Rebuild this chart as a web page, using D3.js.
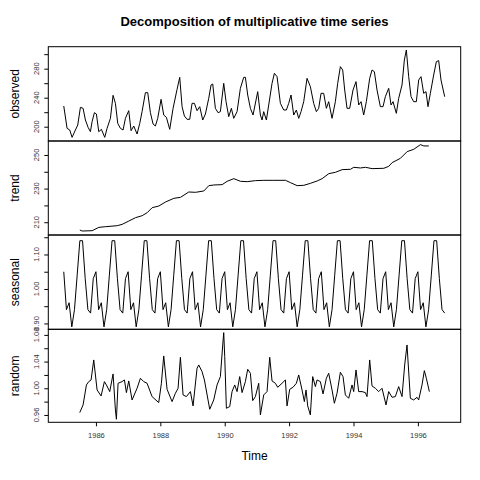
<!DOCTYPE html>
<html><head><meta charset="utf-8">
<script src="https://cdn.jsdelivr.net/npm/d3@7"></script>
<style>body{margin:0;background:#fff}svg{font-family:Arial,"Liberation Sans",sans-serif}</style>
</head><body><svg id="c" width="480" height="480"></svg>
<script>
// observed vertices: [decimal year, value]
const observedZX=[[70,198],[80,265],[88,270],[95,292],[105,270],[112,255],[120,202],[128,205],[135,240],[143,262],[150,275],[155,245],[162,218],[168,222],[175,275],[183,268],[193,292],[200,265],[210,235],[218,166],[225,190],[232,250],[240,265],[248,270],[255,235],[265,212],[272,272],[280,258],[290,282],[298,250],[305,215],[315,158],[322,158],[330,218],[338,252],[345,258],[352,235],[362,178],[370,225],[378,232],[388,268],[398,205],[410,148],[418,112],[425,200],[432,228],[440,238],[448,238],[455,190],[462,190],[470,212],[478,200],[487,240],[495,222],[505,175],[512,135],[517,132],[525,205],[533,218],[540,215],[550,130],[557,185],[565,230],[573,205],[580,235],[590,215],[600,145],[610,112],[615,112],[622,165],
[630,205],[638,225],[652,155],[660,225],[665,240],[670,215],[678,240],[685,195],[695,130],[702,100],[710,110],[720,190],[730,210],[738,210],[745,190],[752,165],[760,225],[768,210],[775,235],[782,215],[790,185],[800,115],[810,140],[820,190],[828,215],[835,205],[842,160],[850,160],[858,205],[865,185],[875,235],[885,185],[892,130],[900,80],[907,90],[913,150],[920,205],[928,205],[938,150],[947,125],[955,195],[962,185],[970,225],[978,185],[988,115],[995,90],[1002,95],[1010,150],[1020,200],[1028,200],[1035,170],[1045,145],[1052,195],[1058,185],[1068,220],[1075,175],[1085,135],[1092,60],[1098,30],[1105,110],[1112,170],[1120,185],[1128,185],[1135,120],[1142,110],[1150,160],[1157,155],[1163,200],[1170,160],[1180,105],[1188,65],[1195,62],[1202,120],[1213,170]];
const observed=observedZX.map(([zx,zy])=>[1985+(zx-70)/96.6, 200+(86.7-zy/3)/0.725]);
const trendZX=[[118,270],[125,273],[155,272],[175,262],[195,260],[230,257],[245,253],[265,243],[285,233],[305,227],[320,218],[335,203],[355,198],[375,186],[400,175],[420,172],[445,156],[465,157],[490,153],[505,137],[520,135],[545,134],[560,124],[580,116],[600,124],[620,125],[645,122],[670,121],[700,121],[735,121],[750,128],[770,137],[790,136],[810,130],[830,123],[845,116],[865,101],[885,97],[905,89],[930,88],[940,82],[960,84],[975,82],[995,86],[1030,85],[1045,79],[1055,68],[1080,55],[1100,35],[1120,28],[1140,14],[1150,18],[1165,18]];
const trend=trendZX.map(([zx,zy])=>[1985.5+(zx-118)/96.6, 250-(zy/3-15)/1.68]);
const seasonalMonths=[1.05,0.94,0.96,0.89,0.94,1.04,1.14,1.14,1.03,0.94,0.93,1.03];
const nMonths=143; // Jan 1985 - Nov 1996
const seasonal=d3.range(nMonths).map(i=>[1985+i/12, seasonalMonths[i%12]]);
const randomZX=[[238,278],[248,255],[258,195],[265,185],[272,180],[280,120],[290,210],[302,228],[312,185],[318,195],[328,215],[338,162],[345,270],[348,298],[353,190],[365,185],[372,180],[378,218],[385,183],[395,240],[410,205],[420,175],[430,185],[440,190],[455,230],[475,248],[483,190],[490,108],[500,208],[515,245],[525,220],[533,205],[540,112],[548,225],[558,230],[570,215],[578,258],[590,145],[595,135],[605,155],[612,180],[628,268],[640,240],[650,195],[660,170],[667,75],[670,38],[673,110],[678,265],[688,260],[695,215],[703,195],[710,215],[718,170],[725,218],[735,185],[742,148],[750,160],[757,242],[765,230],[775,190],[780,285],[790,225],[800,215],[808,112],[815,183],[825,190],[832,202],[845,190],[855,180],[860,258],[868,208],[878,202],[888,190],[895,165],[905,210],[912,245],[917,210],[922,258],[930,285],[937,170],[945,200],[950,180],[960,185],[968,222],[978,175],[985,160],[995,210],[1002,250],[1010,220],[1020,157],[1028,170],[1035,225],[1045,235],[1055,195],[1060,215],[1067,150],[1075,215],[1085,215],[1095,218],[1100,230],[1108,120],[1115,198],[1125,205],[1135,215],[1145,205],[1157,255],[1165,215],[1175,232],[1185,230],[1195,200],[1205,230],[1213,135],[1220,75],[1230,235],[1240,240],[1250,232],[1255,240],[1265,195],[1272,152],[1278,175],[1287,215]];
const random=randomZX.map(([zx,zy])=>[1985+(zx-190)/96.6, 1+(205-zy)/2002]);
const xTicks=[1986,1988,1990,1992,1994,1996];

const svg=d3.select("#c");
const L=48.3,R=460.7;
const x=d3.scaleLinear().domain([1984.52,1997.33]).range([L,R]);
const panels=[
 {name:"observed",data:observed,dom:[180.3,310.3],top:46.7,bot:141,ticks:[200,220,240,260,280,300],labs:[200,240,280],fmt:d3.format("d")},
 {name:"trend",data:trend,dom:[202.4,258.3],top:141,bot:235,ticks:[210,220,230,240,250],labs:[210,230,250],fmt:d3.format("d")},
 {name:"seasonal",data:seasonal,dom:[0.883,1.1565],top:235,bot:329.3,ticks:[0.90,0.95,1.00,1.05,1.10,1.15],labs:[0.90,1.00,1.10],fmt:d3.format(".2f")},
 {name:"random",data:random,dom:[0.949,1.0884],top:329.3,bot:422.3,ticks:[0.96,0.98,1.00,1.02,1.04,1.06,1.08],labs:[0.96,1.00,1.04,1.08],fmt:d3.format(".2f")}
];
panels.forEach(p=>{
 const y=d3.scaleLinear().domain(p.dom).range([p.bot,p.top]);
 svg.append("path").datum(p.data).attr("fill","none").attr("stroke","#000").attr("stroke-width",1)
   .attr("d",d3.line().x(d=>x(d[0])).y(d=>y(d[1])));
 svg.append("rect").attr("x",L).attr("y",p.top).attr("width",R-L).attr("height",p.bot-p.top)
   .attr("fill","none").attr("stroke","#000");
 const g=svg.append("g").attr("transform",`translate(${L},0)`);
 g.call(d3.axisLeft(y).tickValues(p.ticks).tickSize(4).tickFormat(()=>""));
 g.select(".domain").remove();
 p.labs.forEach(v=>{
   g.append("text").attr("transform",`translate(-9,${y(v)}) rotate(-90)`).attr("text-anchor","middle")
    .attr("font-size",7.5).attr("fill","#333").text(p.fmt(v));
 });
 svg.append("text").attr("transform",`translate(19,${(p.top+p.bot)/2}) rotate(-90)`).attr("text-anchor","middle")
   .attr("font-size",12).text(p.name);
});
const gx=svg.append("g").attr("transform",`translate(0,422.3)`)
 .call(d3.axisBottom(x).tickValues(xTicks).tickSize(4).tickFormat(d3.format("d")));
gx.select(".domain").remove();
gx.selectAll("text").attr("font-size",7.5).attr("fill","#333").attr("dy","1.1em");
svg.append("text").attr("x",(L+R)/2).attr("y",460).attr("text-anchor","middle").attr("font-size",12).text("Time");
svg.append("text").attr("x",(L+R)/2).attr("y",26).attr("text-anchor","middle").attr("font-size",13).attr("font-weight","bold").text("Decomposition of multiplicative time series");
</script></body></html>
